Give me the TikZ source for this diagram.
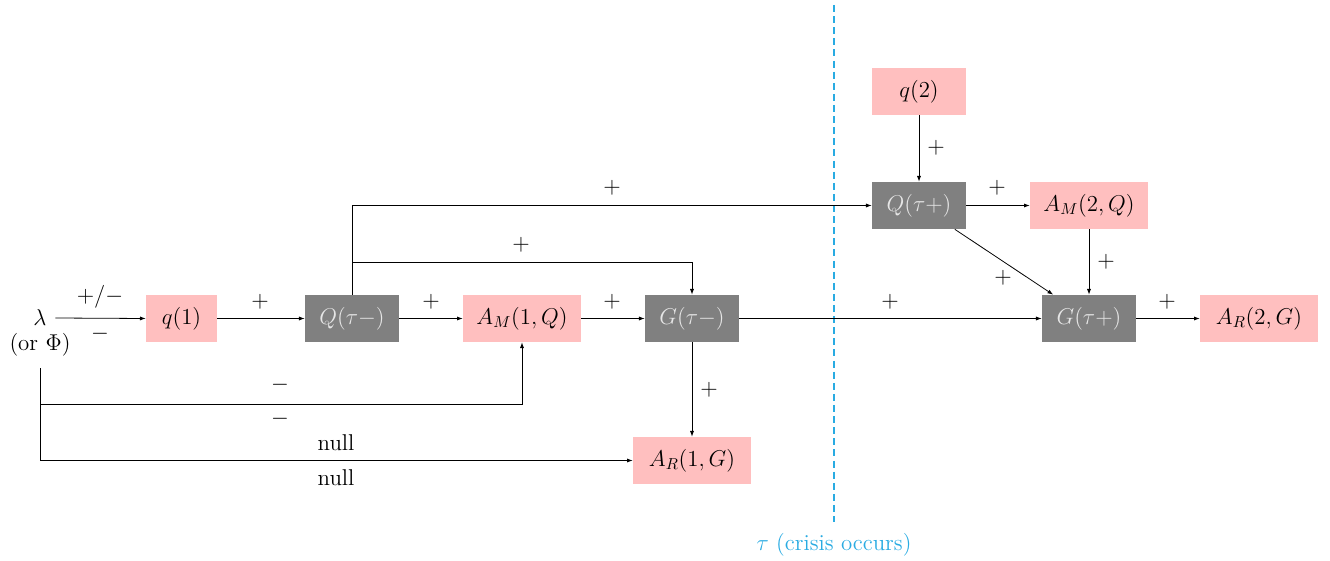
\documentclass[tikz,border=0pt]{standalone}
\usetikzlibrary{arrows.meta}
\definecolor{pinkbox}{RGB}{255,191,191}
\definecolor{graybox}{RGB}{128,128,128}
\definecolor{graytext}{RGB}{230,230,230}
\definecolor{crisis}{RGB}{41,171,226}
\begin{document}
\begin{tikzpicture}[x=0.63pt,y=-0.63pt,
  every node/.style={font=\Large},
  pbox/.style={fill=pinkbox,inner sep=0pt,minimum height=29.6pt,text=black},
  gbox/.style={fill=graybox,inner sep=0pt,minimum height=29.6pt,minimum width=59.2pt,text=graytext},
  wS/.style={minimum width=44.7pt},
  wM/.style={minimum width=59.2pt},
  wL/.style={minimum width=74.3pt},
  conn/.style={draw,line width=0.5pt,-{Latex[length=3.6pt,width=2.6pt]}},
  lbl/.style={inner sep=0pt}]
\useasboundingbox (0,0) rectangle (1330,561);
% nodes
\node[inner sep=0pt,minimum width=19pt] (lam) at (40,318) {$\lambda$};
\node[inner sep=0pt,minimum height=29pt] (orphi) at (40,345) {(or $\Phi$)};
\node[pbox,wS] (q1) at (181.5,318.5) {$q(1)$};
\node[gbox] (Qm) at (352,318.5) {$Q(\tau-)$};
\node[pbox,wL] (AM1) at (522,318.5) {$A_M(1,Q)$};
\node[gbox] (Gm) at (692,318.5) {$G(\tau-)$};
\node[pbox,wL] (AR1) at (692,460.5) {$A_R(1,G)$};
\node[pbox,wM] (q2) at (919,91.5) {$q(2)$};
\node[gbox] (Qp) at (919,205.5) {$Q(\tau+)$};
\node[pbox,wL] (AM2) at (1089,205.5) {$A_M(2,Q)$};
\node[gbox] (Gp) at (1089,318.5) {$G(\tau+)$};
\node[pbox,wL] (AR2) at (1259,318.5) {$A_R(2,G)$};
% crisis line
\coordinate (ctop) at (834,5);
\coordinate (cbot) at (834,522);
\draw[crisis,line width=0.8pt,dash pattern=on 4.4pt off 2.6pt] (ctop) -- (cbot);
\node[text=crisis,inner sep=0pt] (tau) at (834,545) {$\tau$ (crisis occurs)};
% junction coordinates
\coordinate (j1) at (40,404);
\coordinate (b2) at (352,262);
% connectors
\draw[conn] (lam.east) -- (q1.west);
\node[lbl] at (100,297) {$+/-$};
\node[lbl] at (100,334) {$-$};
\draw[conn] (q1) -- (Qm);
\node[lbl] at (260,302) {$+$};
\draw[conn] (Qm) -- (AM1);
\node[lbl] at (431,302) {$+$};
\draw[conn] (AM1) -- (Gm);
\node[lbl] at (612,302) {$+$};
\draw[conn] (Gm) -- (Gp);
\node[lbl] at (890,302) {$+$};
\draw[conn] (Gp) -- (AR2);
\node[lbl] at (1167,302) {$+$};
\draw[conn] (Qm.north) |- (Qp.west);
\node[lbl] at (612,188) {$+$};
\draw[conn] (b2) -| (Gm.north);
\node[lbl] at (521,245) {$+$};
\draw[conn] (orphi.south) -- (j1) -| (AM1.south);
\node[lbl] at (280,385) {$-$};
\node[lbl] at (280,419) {$-$};
\draw[conn] (j1) |- (AR1.west);
\node[lbl] at (336,443) {null};
\node[lbl] at (336,478) {null};
\draw[conn] (Gm) -- (AR1);
\node[lbl] at (709,390) {$+$};
\draw[conn] (q2) -- (Qp);
\node[lbl] at (936,148) {$+$};
\draw[conn] (Qp) -- (AM2);
\node[lbl] at (997,188) {$+$};
\draw[conn] (Qp) -- (Gp);
\node[lbl] at (1003,278) {$+$};
\draw[conn] (AM2) -- (Gp);
\node[lbl] at (1106,262) {$+$};
\end{tikzpicture}
\end{document}
